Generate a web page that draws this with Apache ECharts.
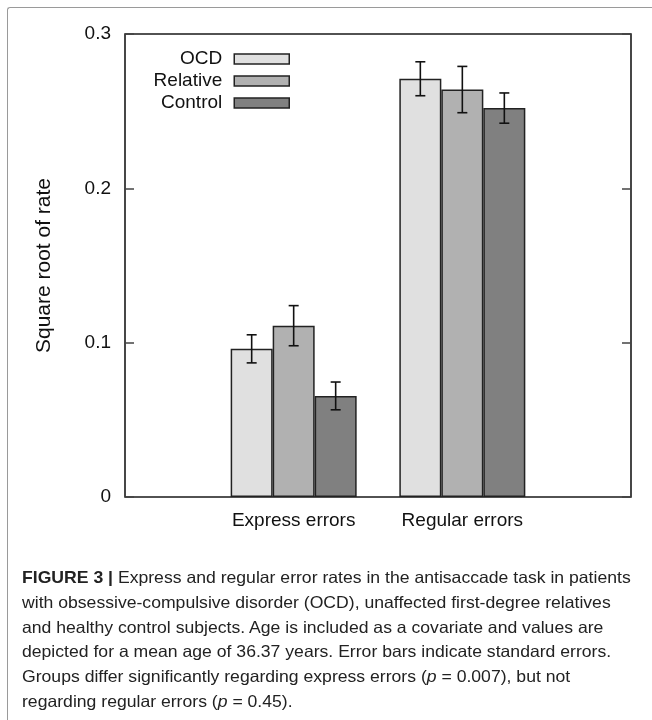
<!DOCTYPE html>
<html><head><meta charset="utf-8">
<script src="https://cdn.jsdelivr.net/npm/echarts@6/dist/echarts.min.js"></script>
<style>
html,body{margin:0;padding:0;background:#fff;}
#wrap{position:relative;width:652px;height:720px;overflow:hidden;}
#chart{position:absolute;left:0;top:0;width:652px;height:720px;}
#frame{position:absolute;left:7px;top:7px;width:700px;height:800px;border-left:1.5px solid #9a9a9a;border-top:1.5px solid #9a9a9a;border-top-left-radius:3px;pointer-events:none;}
#caption{position:absolute;left:22px;top:565px;font-family:'Liberation Sans',Arial,sans-serif;font-size:16.5px;line-height:24.8px;color:#222;transform:scaleX(1.067);transform-origin:0 0;}
#caption div{white-space:nowrap;}
</style></head>
<body>
<div id="wrap">
<div id="chart"></div>
<div id="frame"></div>
<div id="caption">
<div><b>FIGURE 3 |</b> Express and regular error rates in the antisaccade task in patients</div>
<div>with obsessive-compulsive disorder (OCD), unaffected first-degree relatives</div>
<div>and healthy control subjects. Age is included as a covariate and values are</div>
<div>depicted for a mean age of 36.37 years. Error bars indicate standard errors.</div>
<div>Groups differ significantly regarding express errors (<i>p</i> = 0.007), but not</div>
<div>regarding regular errors (<i>p</i> = 0.45).</div>
</div>
</div>
<script>
// ---- data ----
const categories = ['Express errors', 'Regular errors'];
const groupNames = ['OCD', 'Relative', 'Control'];
const ocdValues = [0.096, 0.271];
const ocdErrors = [0.0091, 0.011];
const relativeValues = [0.111, 0.264];
const relativeErrors = [0.013, 0.015];
const controlValues = [0.0655, 0.252];
const controlErrors = [0.009, 0.0098];
const yTickValues = [0, 0.1, 0.2, 0.3];

// ---- build ----
const seriesValues = [ocdValues, relativeValues, controlValues];
const seriesErrors = [ocdErrors, relativeErrors, controlErrors];
const barColors = ['#e0e0e0', '#b1b1b1', '#808080'];
const BAR_W = 42;
const FONT = "'Liberation Sans', Arial, sans-serif";

const xCats = [''].concat(categories, ['']);

const barSeries = groupNames.map((name, si) => ({
  name: name,
  type: 'bar',
  barWidth: BAR_W,
  barGap: '0%',
  data: ['-'].concat(seriesValues[si], ['-']),
  itemStyle: { color: barColors[si], borderColor: '#222', borderWidth: 1.5 },
  emphasis: { disabled: true },
  z: 2
}));

const errData = [];
groupNames.forEach((name, si) => {
  categories.forEach((c, ci) => {
    errData.push([ci + 1, si, seriesValues[si][ci], seriesErrors[si][ci]]);
  });
});

const errSeries = {
  type: 'custom',
  name: 'err',
  data: errData,
  encode: { x: 0, y: 2 },
  z: 5,
  silent: true,
  renderItem: function (params, api) {
    const xi = api.value(0), si = api.value(1), v = api.value(2), e = api.value(3);
    const c = api.coord([xi, v]);
    const n = groupNames.length;
    const x = c[0] + (si - (n - 1) / 2) * BAR_W;
    const yt = api.coord([xi, v + e])[1];
    const yb = api.coord([xi, v - e])[1];
    const st = { stroke: '#111', lineWidth: 1.6 };
    const cap = 5;
    return {
      type: 'group',
      children: [
        { type: 'line', shape: { x1: x, y1: yt, x2: x, y2: yb }, style: st },
        { type: 'line', shape: { x1: x - cap, y1: yt, x2: x + cap, y2: yt }, style: st },
        { type: 'line', shape: { x1: x - cap, y1: yb, x2: x + cap, y2: yb }, style: st }
      ]
    };
  }
};

const chart = echarts.init(document.getElementById('chart'), null, { renderer: 'canvas' });
const yMin = yTickValues[0], yMax = yTickValues[yTickValues.length - 1];
const yInt = yTickValues[1] - yTickValues[0];
chart.setOption({
  animation: false,
  backgroundColor: 'transparent',
  grid: { left: 125, right: 21, top: 34, bottom: 223, show: true, borderColor: '#1a1a1a', borderWidth: 1.6, containLabel: false },
  legend: {
    data: groupNames,
    orient: 'vertical',
    align: 'right',
    right: 357,
    top: 44,
    itemWidth: 55,
    itemHeight: 10,
    itemGap: 2,
    icon: 'rect',
    selectedMode: false,
    itemStyle: { borderColor: '#222', borderWidth: 1.5 },
    textStyle: { fontFamily: FONT, fontSize: 19, lineHeight: 20, color: '#111', padding: [0, 7, 0, 0] }
  },
  xAxis: {
    type: 'category',
    data: xCats,
    boundaryGap: false,
    axisLine: { show: false },
    axisTick: { show: false },
    splitLine: { show: false },
    axisLabel: { fontFamily: FONT, fontSize: 19, color: '#111', margin: 14, interval: 0 }
  },
  yAxis: [{
    type: 'value',
    min: yMin, max: yMax, interval: yInt,
    name: 'Square root of rate',
    nameLocation: 'middle',
    nameGap: 70,
    nameTextStyle: { fontFamily: FONT, fontSize: 21, color: '#111' },
    axisLine: { show: false },
    axisTick: { show: true, inside: true, length: 9, lineStyle: { color: '#444', width: 1.5 } },
    splitLine: { show: false },
    axisLabel: { fontFamily: FONT, fontSize: 19, color: '#111', margin: 14,
      formatter: v => (v === 0 ? '0' : v.toFixed(1)) }
  }, {
    type: 'value',
    position: 'right',
    min: yMin, max: yMax, interval: yInt,
    axisLine: { show: false },
    axisTick: { show: true, inside: true, length: 9, lineStyle: { color: '#444', width: 1.5 } },
    splitLine: { show: false },
    axisLabel: { show: false }
  }],
  series: barSeries.concat([errSeries])
});
</script>
</body></html>
